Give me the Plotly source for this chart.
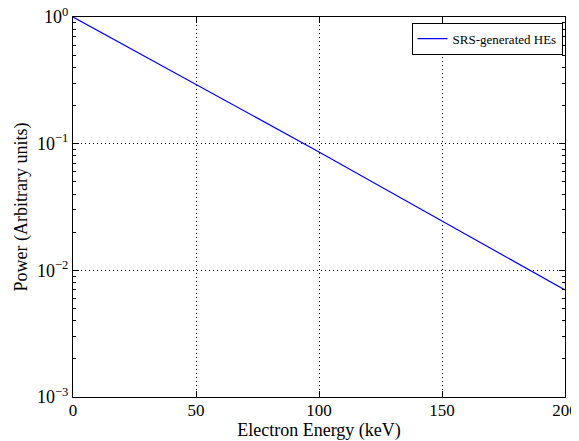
import plotly.graph_objects as go

energy_kev = [0, 50, 100, 150, 200]
power = [1.0, 0.295, 0.086, 0.0245, 0.0070]
series_name = "SRS-generated HEs"

x_ticks = [0, 50, 100, 150, 200]
y_ticks = [1e-3, 1e-2, 1e-1, 1e0]
y_tick_text = ["10<sup>−3</sup>", "10<sup>−2</sup>", "10<sup>−1</sup>", "10<sup>0</sup>"]
y_minor = [m * 10.0**e for e in (-3, -2, -1) for m in range(2, 10)]

FONT = "Liberation Serif"

fig = go.Figure()
fig.add_trace(go.Scatter(x=energy_kev, y=power, mode="lines", name=series_name,
                         line=dict(color="#0000ff", width=1.2)))

# page body has an 8px margin; figure sized so it ends at the window edge
fig.update_layout(
    width=571, height=433,
    margin=dict(l=65, r=14, t=9, b=44),
    paper_bgcolor="white", plot_bgcolor="white",
    font=dict(family=FONT, size=18, color="black"),
    showlegend=True,
    legend=dict(x=0.995, y=0.985, xanchor="right", yanchor="top",
                bordercolor="black", borderwidth=1, bgcolor="white",
                itemwidth=30, tracegroupgap=0,
                font=dict(family=FONT, size=13)),
)
fig.update_xaxes(
    range=[0, 200], tickvals=x_ticks, ticktext=[str(v) for v in x_ticks],
    automargin=False, ticklabeloverflow="allow", ticklabelstandoff=-2,
    showline=True, linecolor="black", linewidth=1, mirror="ticks",
    ticks="inside", ticklen=6, tickcolor="black",
    showgrid=True, gridcolor="black", gridwidth=1, griddash="1px,3px",
    zeroline=False,
    tickfont=dict(family=FONT, size=17),
    title=dict(text="Electron Energy (keV)", font=dict(family=FONT, size=18), standoff=3),
)
fig.update_yaxes(
    type="log", range=[-3, 0], tickvals=y_ticks, ticktext=y_tick_text,
    automargin=False, ticklabeloverflow="allow",
    showline=True, linecolor="black", linewidth=1, mirror="ticks",
    ticks="inside", ticklen=6, tickcolor="black",
    minor=dict(tickvals=y_minor, ticks="inside", ticklen=3, tickcolor="black", showgrid=False),
    showgrid=True, gridcolor="black", gridwidth=1, griddash="1px,3px",
    zeroline=False,
    tickfont=dict(family=FONT, size=18),
    title=dict(text="Power (Arbitrary units)", font=dict(family=FONT, size=18), standoff=4),
)

fig.write_html("out.html")
